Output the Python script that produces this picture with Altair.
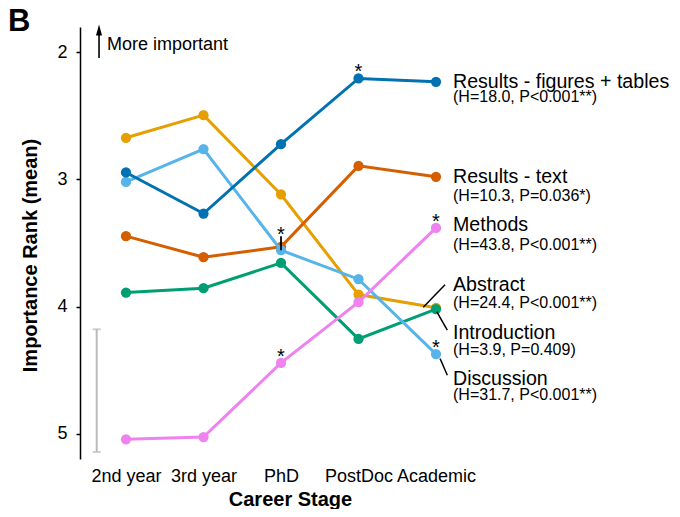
import json
import altair as alt
import pandas as pd

# ---------------- data ----------------
stages = ["2nd year", "3rd year", "PhD", "PostDoc", "Academic"]

# drawing order (bottom -> top)
series = ["Abstract", "Introduction", "Results - text", "Discussion",
          "Results - figures + tables", "Methods"]
colors = ["#E69F00", "#009E73", "#D55E00", "#56B4E9", "#0072B2", "#EE82EE"]

abstract = [2.672, 2.494, 3.118, 3.906, 4.010]
introduction = [3.890, 3.856, 3.657, 4.255, 4.020]
results_text = [3.446, 3.612, 3.530, 2.893, 2.979]
discussion = [3.019, 2.761, 3.557, 3.785, 4.374]
results_fig = [2.945, 3.268, 2.722, 2.205, 2.231]
methods = [5.045, 5.027, 4.444, 3.966, 3.381]
values = [abstract, introduction, results_text, discussion, results_fig, methods]

# right-hand labels (order top -> bottom)
label_names = ["Results - figures + tables", "Results - text", "Methods",
               "Abstract", "Introduction", "Discussion"]
label_stats = ["(H=18.0, P<0.001**)", "(H=10.3, P=0.036*)", "(H=43.8, P<0.001**)",
               "(H=24.4, P<0.001**)", "(H=3.9, P=0.409)", "(H=31.7, P<0.001**)"]
label_y = [2.234, 2.980, 3.360, 3.832, 4.208, 4.567]
stat_y = [2.350, 3.129, 3.517, 3.976, 4.339, 4.698]

# leader lines for crowded labels (stage index / rank units)
lead_x1 = [3.836, 4.009, 4.052]
lead_y1 = [4.006, 4.041, 4.409]
lead_x2 = [4.116, 4.146, 4.146]
lead_y2 = [3.828, 4.186, 4.541]

# significance asterisks (stage index, rank)
star_x = [3, 4, 2, 4, 2]
star_y = [2.205, 3.381, 4.444, 4.374, 3.481]
# bar under the PhD asterisk
bar_x = [2]
bar_y1 = [3.557]
bar_y2 = [3.446]

# grey scale bar and "more important" arrow
err_x = [-0.378]
err_lo = [4.179]
err_hi = [5.145]
arrow_x = [-0.348]
arrow_lo = [2.043]
arrow_hi = [1.86]
arrow_tip = [1.823]
note_x = [-0.245]
note_y = [1.943]
note_text = ["More important"]

FONT = "Liberation Sans"

# ---------------- scales / axes ----------------
xscale = alt.Scale(domain=[-0.5935, 7.045], nice=False, zero=False)
yscale = alt.Scale(domain=[1.8, 5.2], reverse=True, nice=False, zero=False)

label_expr = "[" + ",".join(json.dumps(s) for s in stages) + "][datum.value]"
xaxis = alt.Axis(values=[0, 1, 2, 3, 4], labelExpr=label_expr, title="Career Stage",
                 ticks=False, tickSize=0, domain=False, grid=False,
                 labelFontSize=18, labelPadding=8, labelColor="black",
                 labelOverlap=False, labelFlush=False,
                 titleFontSize=20, titleFontWeight="bold", titleColor="black",
                 titleX=210, titleY=40, titleAlign="center", titleBaseline="middle")
yaxis = alt.Axis(values=[2, 3, 4, 5], title="Importance Rank (mean)", grid=False,
                 labelFontSize=18, labelColor="black", labelPadding=9,
                 tickSize=4, tickWidth=1.5, tickColor="black",
                 domainWidth=1.5, domainColor="black",
                 titleFontSize=20, titleFontWeight="bold", titleColor="black",
                 titleX=-50, titleY=228, titleAlign="center", titleBaseline="middle",
                 titleAngle=270)

X = alt.X("x:Q", scale=xscale, axis=xaxis)
Y = alt.Y("y:Q", scale=yscale, axis=yaxis)

layers = []

# grey scale bar
err_df = pd.DataFrame({"x": err_x, "y": err_lo, "y2": err_hi})
layers.append(alt.Chart(err_df).mark_rule(color="#BBBBBB", strokeWidth=2).encode(
    x=X, y=Y, y2="y2:Q"))
caps_df = pd.DataFrame({"x": err_x * 2, "y": err_lo + err_hi})
layers.append(alt.Chart(caps_df).mark_tick(color="#BBBBBB", orient="horizontal",
                                           size=8, thickness=2).encode(x=X, y=Y))

# arrow
arr_df = pd.DataFrame({"x": arrow_x, "y": arrow_lo, "y2": arrow_hi})
layers.append(alt.Chart(arr_df).mark_rule(color="black", strokeWidth=1.6).encode(
    x=X, y=Y, y2="y2:Q"))
tip_df = pd.DataFrame({"x": arrow_x, "y": arrow_tip})
layers.append(alt.Chart(tip_df).mark_point(shape="M0,-1L0.55,1L-0.55,1Z", filled=True,
                                           color="black", size=121, opacity=1,
                                           strokeWidth=0).encode(x=X, y=Y))
note_df = pd.DataFrame({"x": note_x, "y": note_y, "t": note_text})
layers.append(alt.Chart(note_df).mark_text(align="left", baseline="middle", fontSize=18,
                                           font=FONT, color="black").encode(
    x=X, y=Y, text="t:N"))

# series lines + points
for name, col, vals in zip(series, colors, values):
    df = pd.DataFrame({"x": list(range(len(stages))), "y": vals, "s": name})
    layers.append(alt.Chart(df).mark_line(color=col, strokeWidth=3).encode(x=X, y=Y))
    layers.append(alt.Chart(df).mark_circle(color=col, size=105, opacity=1).encode(x=X, y=Y))

# asterisk bar + asterisks
bar_df = pd.DataFrame({"x": bar_x, "y": bar_y1, "y2": bar_y2})
layers.append(alt.Chart(bar_df).mark_rule(color="black", strokeWidth=1.8).encode(
    x=X, y=Y, y2="y2:Q"))
star_df = pd.DataFrame({"x": star_x, "y": star_y, "t": ["*"] * len(star_x)})
layers.append(alt.Chart(star_df).mark_text(fontSize=20, font=FONT, color="black",
                                           baseline="alphabetic", align="center").encode(
    x=X, y=Y, text="t:N"))

# leader lines
lead_df = pd.DataFrame({"x": lead_x1, "y": lead_y1, "x2": lead_x2, "y2": lead_y2})
layers.append(alt.Chart(lead_df).mark_rule(color="black", strokeWidth=1.5).encode(
    x=X, y=Y, x2="x2:Q", y2="y2:Q"))

# right-hand labels
lab_df = pd.DataFrame({"x": [4] * len(label_names), "y": label_y, "t": label_names})
layers.append(alt.Chart(lab_df).mark_text(align="left", baseline="middle", dx=17,
                                          fontSize=19.6, font=FONT, color="black").encode(
    x=X, y=Y, text="t:N"))
stat_df = pd.DataFrame({"x": [4] * len(label_stats), "y": stat_y, "t": label_stats})
layers.append(alt.Chart(stat_df).mark_text(align="left", baseline="middle", dx=17,
                                           fontSize=16, font=FONT, color="black").encode(
    x=X, y=Y, text="t:N"))

# panel letter
b_df = pd.DataFrame({"t": ["B"]})
layers.append(alt.Chart(b_df).mark_text(align="left", baseline="alphabetic", fontSize=31,
                                        fontWeight="bold", font=FONT, color="black").encode(
    x=alt.value(-72), y=alt.value(4), text="t:N"))

chart = alt.layer(*layers).properties(
    width=592, height=432,
    autosize=alt.AutoSizeParams(type="none"),
    padding={"left": 72, "top": 19, "right": 0, "bottom": 50},
).configure(font=FONT).configure_view(stroke=None)

chart.save("out.html", embed_options={"renderer": "svg", "actions": False})
